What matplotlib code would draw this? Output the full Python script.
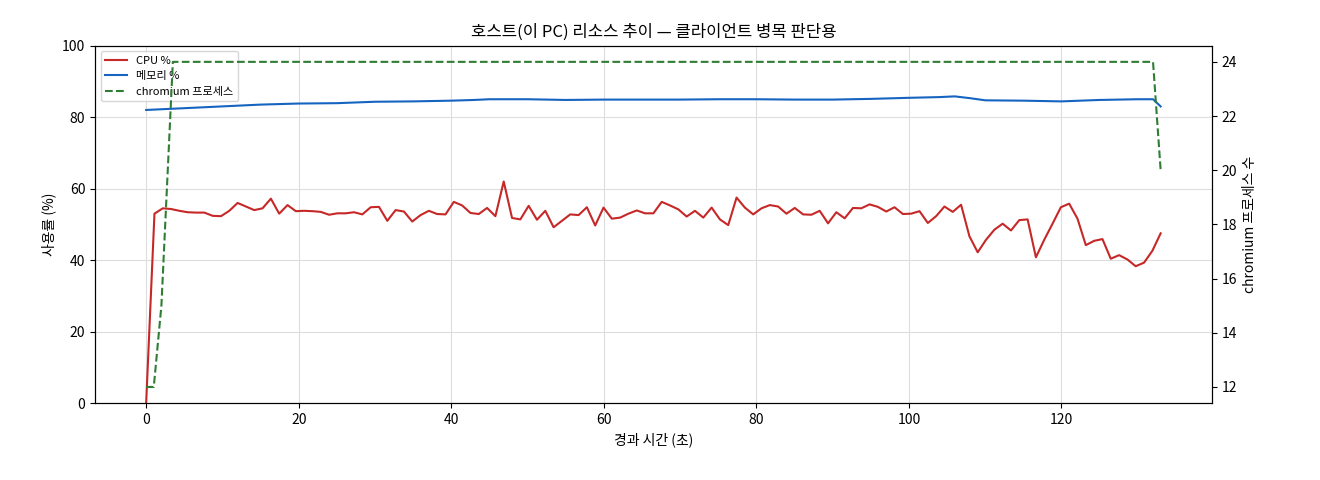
import numpy as np
import matplotlib
matplotlib.use("Agg")
import matplotlib.pyplot as plt

plt.rcParams['font.family'] = ['Noto Sans CJK KR', 'DejaVu Sans']

cpu = [0, 53, 54.5, 54.3, 53.8, 53.4, 53.3, 53.3, 52.4, 52.3, 53.8, 56, 55, 54, 54.5, 57.2, 53, 55.4,
       53.7, 53.8, 53.7, 53.5, 52.7, 53.1, 53.1, 53.4, 52.8, 54.8, 54.9, 51, 54, 53.6, 50.8, 52.6, 53.8,
       52.9, 52.8, 56.3, 55.3, 53.2, 52.9, 54.6, 52.3, 62, 51.8, 51.4, 55.2, 51.3, 53.8, 49.2, 51, 52.8,
       52.6, 54.8, 49.7, 54.7, 51.6, 51.9, 53, 53.9, 53.1, 53.1, 56.3, 55.3, 54.2, 52.2, 53.8, 51.9, 54.7,
       51.4, 49.8, 57.5, 54.7, 52.8, 54.5, 55.4, 55, 53, 54.6, 52.8, 52.7, 53.8, 50.3, 53.4, 51.7, 54.6,
       54.5, 55.6, 54.9, 53.6, 54.8, 52.9, 53, 53.7, 50.4, 52.3, 55, 53.5, 55.5, 46.7, 42.2, 45.7, 48.5,
       50.2, 48.3, 51.2, 51.4, 40.8, 45.7, 50.2, 54.8, 55.8, 51.6, 44.2, 45.4, 45.9, 40.4, 41.4, 40.2,
       38.3, 39.3, 42.6, 47.5]
cpu_t = np.linspace(0, 133, len(cpu))

mem_t = [0, 10, 15, 20, 25, 30, 35, 40, 43, 45, 50, 55, 60, 65, 70, 75, 80, 85, 90, 95, 100, 104, 106, 108, 110, 115, 120, 125, 130, 132, 133]
mem = [82.0, 83.0, 83.5, 83.8, 83.9, 84.3, 84.4, 84.6, 84.8, 85.0, 85.0, 84.8, 84.9, 84.9, 84.9, 85.0, 85.0, 84.9, 84.9, 85.1, 85.4, 85.6, 85.8, 85.3, 84.7, 84.6, 84.4, 84.8, 85.0, 85.0, 83.0]

proc_t = [0, 1, 2, 3.5, 132, 133]
proc = [12, 12, 15, 24, 24, 20]

fig, ax = plt.subplots(figsize=(13.2, 4.8), dpi=100)
l1, = ax.plot(cpu_t, cpu, color='#c62828', lw=1.5, label='CPU %')
l2, = ax.plot(mem_t, mem, color='#1565c0', lw=1.5, label='메모리 %')
ax.set_ylim(0, 100)
ax.set_xlim(-6.7, 139.7)
ax.set_ylabel('사용률 (%)')
ax.set_xlabel('경과 시간 (초)')
ax.grid(True, color='#dddddd', lw=0.8)
ax2 = ax.twinx()
l3, = ax2.plot(proc_t, proc, color='#2e7d32', lw=1.5, ls='--', label='chromium 프로세스')
ax2.set_ylim(11.4, 24.6)
ax2.set_ylabel('chromium 프로세스 수')
ax.set_title('호스트(이 PC) 리소스 추이 — 클라이언트 병목 판단용')
ax.legend(handles=[l1, l2, l3], loc='upper left', fontsize=8)
fig.subplots_adjust(left=0.072, right=0.918, top=0.905, bottom=0.16)
fig.savefig('out.png')
